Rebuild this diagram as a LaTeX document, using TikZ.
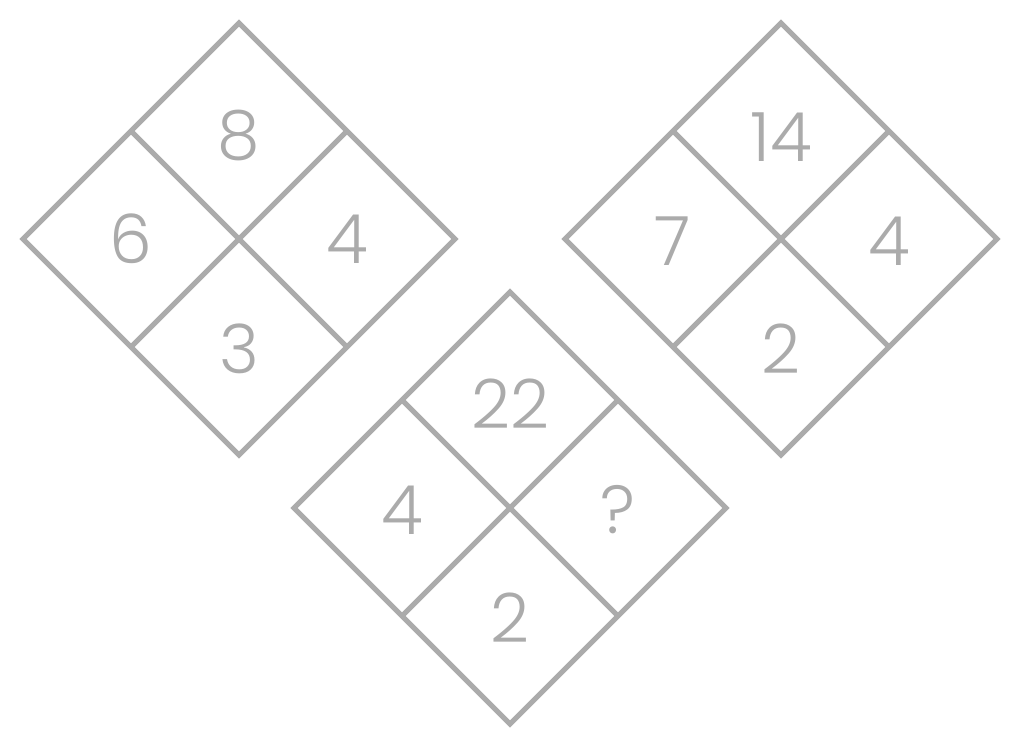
\documentclass[tikz,border=0pt]{standalone}
\usepackage{fontspec}
\setmainfont{Poppins Light}

\definecolor{gridgray}{HTML}{ABABAB}

\tikzset{
	cell/.style = {draw = gridgray, line width = 5pt},
	num/.style = {text = gridgray, font = \fontsize{68}{68}\selectfont, inner sep = 0pt}
}

\begin{document}
\begin{tikzpicture}[x = 1pt, y = -1pt]

	\useasboundingbox (0, 0) rectangle (1021, 748);

	% Left diamond

	\begin{scope}[shift = {(239, 239)}]

		\draw[cell] (0, -216) -- (216, 0) -- (0, 216) -- (-216, 0) -- cycle;
		\draw[cell] (-108, -108) -- (108, 108);
		\draw[cell] (108, -108) -- (-108, 108);

		\node[num] (lefttop) at (0, -104) {8};
		\node[num] (leftwest) at (-108, 0) {6};
		\node[num] (lefteast) at (108, 0) {4};
		\node[num] (leftbottom) at (0, 110) {3};

	\end{scope}

	% Right diamond

	\begin{scope}[shift = {(781, 239)}]

		\draw[cell] (0, -216) -- (216, 0) -- (0, 216) -- (-216, 0) -- cycle;
		\draw[cell] (-108, -108) -- (108, 108);
		\draw[cell] (108, -108) -- (-108, 108);

		\node[num] (righttop) at (0, -102) {14};
		\node[num] (rightwest) at (-108, 2) {7};
		\node[num] (righteast) at (108, 2) {4};
		\node[num] (rightbottom) at (0, 110) {2};

	\end{scope}

	% Middle diamond

	\begin{scope}[shift = {(510, 508)}]

		\draw[cell] (0, -216) -- (216, 0) -- (0, 216) -- (-216, 0) -- cycle;
		\draw[cell] (-108, -108) -- (108, 108);
		\draw[cell] (108, -108) -- (-108, 108);

		\node[num] (midtop) at (0, -104) {22};
		\node[num] (midwest) at (-108, 2) {4};
		\node[num] (mideast) at (108, 2) {?};
		\node[num] (midbottom) at (0, 110) {2};

	\end{scope}

\end{tikzpicture}
\end{document}
